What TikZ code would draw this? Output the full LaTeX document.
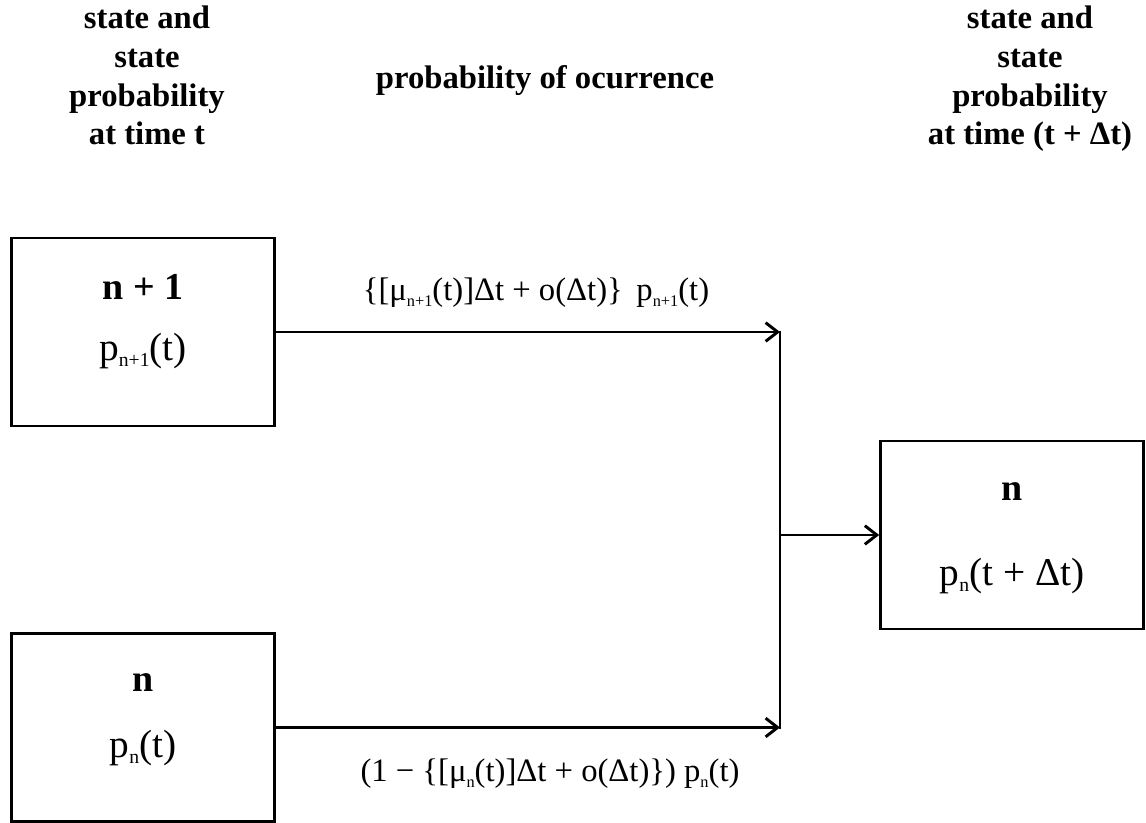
\documentclass[tikz,border=0pt]{standalone}
\usepackage{fontspec}
\setmainfont{Liberation Serif}
\usetikzlibrary{arrows.meta}
\newcommand\sbsc[1]{\raisebox{-0.35ex}{\scalebox{0.5}{#1}}}
\begin{document}
\begin{tikzpicture}[x=0.75pt,y=-0.75pt,
  box/.style={draw,line width=2.2pt,minimum width=197pt,minimum height=141pt,inner sep=0pt},
  hdr/.style={font=\fontsize{24.5}{29}\selectfont\bfseries,align=center,inner sep=0pt},
  big/.style={font=\fontsize{29.5}{33}\selectfont,inner sep=0pt},
  bigb/.style={font=\fontsize{28.5}{33}\selectfont\bfseries,inner sep=0pt},
  lbl/.style={font=\fontsize{24.5}{28}\selectfont,inner sep=0pt},
  conn/.style={line width=2.2pt,-{Straight Barb[length=9pt,width=14pt]}},
  plain/.style={line width=2.2pt}]
\useasboundingbox (0,0) rectangle (1146,823);
% headers
\node[hdr,anchor=north] (h1) at (147,6) {state and\\state\\probability\\at time t};
\node[hdr] (h2) at (545,81) {probability of ocurrence};
\node[hdr,anchor=north] (h3) at (1030,6) {state and\\state\\probability\\at time (t + Δt)};
% boxes
\node[box] (b1) at (143,332) {};
\node[box] (b2) at (143,727.5) {};
\node[box] (b3) at (1012,535) {};
% box texts
\node[bigb] (t1) at (143,287) {n + 1};
\node[big] (t2) at (143,351) {p\sbsc{n+1}(t)};
\node[bigb] (t3) at (143,683) {n};
\node[big] (t4) at (143,748) {p\sbsc{n}(t)};
\node[bigb] (t5) at (1012,492) {n};
\node[big] (t6) at (1012,576) {p\sbsc{n}(t + Δt)};
% junction
\coordinate (j1) at (780,332);
\coordinate (j2) at (780,727.5);
\coordinate (jm) at (780,535);
\draw[conn] (b1.east) -- (j1);
\draw[conn] (b2.east) -- (j2);
\draw[plain,line cap=rect] (j1) -- (j2);
\draw[conn] (jm) -- (b3.west);
% labels
\node[lbl] (l1) at (536,293) {\{[μ\sbsc{n+1}(t)]Δt + o(Δt)\} \,p\sbsc{n+1}(t)};
\node[lbl] (l2) at (550,774) {(1 − \{[μ\sbsc{n}(t)]Δt + o(Δt)\}) p\sbsc{n}(t)};
\end{tikzpicture}
\end{document}
